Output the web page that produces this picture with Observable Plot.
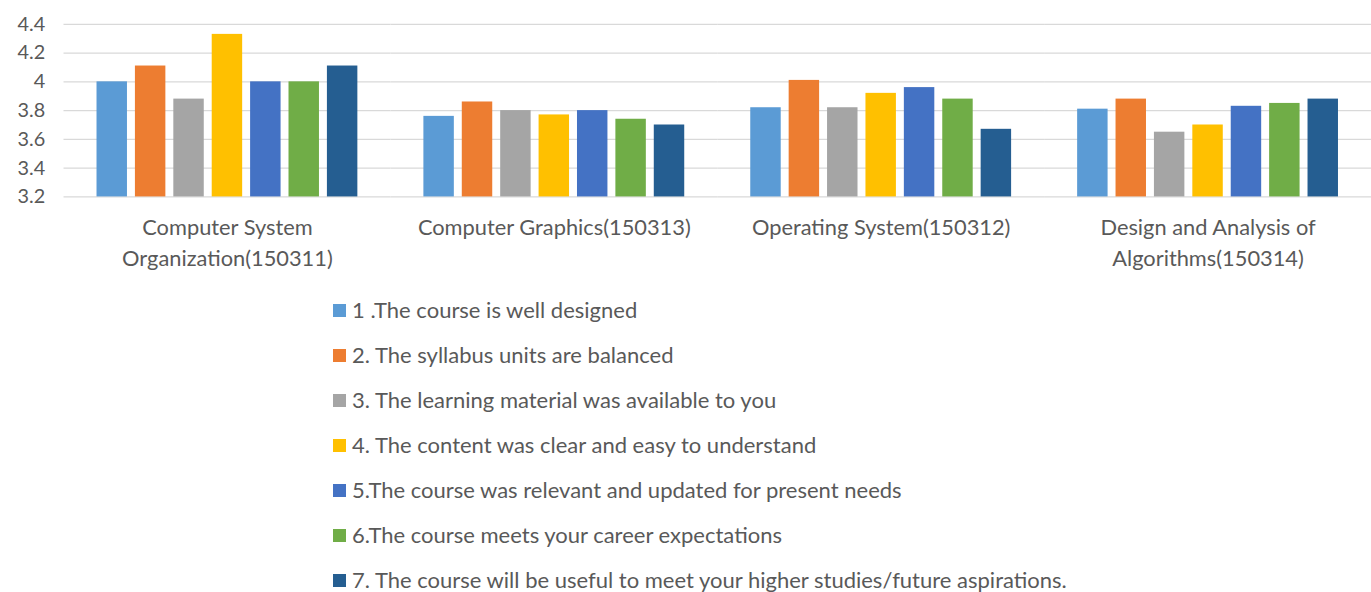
<!DOCTYPE html>
<html>
<head>
<meta charset="utf-8">
<script src="https://cdn.jsdelivr.net/npm/d3@7"></script>
<script src="https://cdn.jsdelivr.net/npm/@observablehq/plot@0.6"></script>
<style>
  html, body { margin: 0; padding: 0; background: #fff; overflow: hidden; }
  #wrap { width: 1371px; height: 592px; overflow: hidden; position: relative; font-family: Lato, sans-serif; }
  #chart svg { display: block; }
  #legend { padding-left: 333px; padding-top: 2px; }
  .row { height: 45px; font-size: 22px; line-height: 22px; color: #595959; white-space: nowrap; display: flex; align-items: center; }
  .sw { width: 13px; height: 13px; display: inline-block; margin-right: 6px; }
</style>
</head>
<body>
<div id="wrap"><div id="chart"></div><div id="legend"></div></div>
<script>
const groups = ["Computer System Organization(150311)", "Computer Graphics(150313)", "Operating System(150312)", "Design and Analysis of Algorithms(150314)"];
const groupLabels = ["Computer System\nOrganization(150311)", "Computer Graphics(150313)", "Operating System(150312)", "Design and Analysis of\nAlgorithms(150314)"];
const series = [
  "1 .The course is well designed",
  "2. The syllabus units are balanced",
  "3. The learning material was available to you",
  "4. The content was clear and easy to understand",
  "5.The course was relevant and updated for present needs",
  "6.The course meets your career expectations",
  "7. The course will be useful to meet your higher studies/future aspirations."
];
const colors = ["#5B9BD5", "#ED7D31", "#A5A5A5", "#FFC000", "#4472C4", "#70AD47", "#255E91"];
const q1 = [4.00, 3.76, 3.82, 3.81];
const q2 = [4.11, 3.86, 4.01, 3.88];
const q3 = [3.88, 3.80, 3.82, 3.65];
const q4 = [4.33, 3.77, 3.92, 3.70];
const q5 = [4.00, 3.80, 3.96, 3.83];
const q6 = [4.00, 3.74, 3.88, 3.85];
const q7 = [4.11, 3.70, 3.67, 3.88];
const yDomain = [3.2, 4.4];
const yTicks = [3.2, 3.4, 3.6, 3.8, 4, 4.2, 4.4];

const seriesValues = [q1, q2, q3, q4, q5, q6, q7];
const data = [];
seriesValues.forEach((vals, si) => vals.forEach((v, gi) => data.push({group: groups[gi], series: series[si], value: v})));

const width = 1382, marginLeft = 64, marginRight = 0;
const fxPadInner = 0.202, fxPadOuter = 0.101;
const step = (width - marginLeft - marginRight) / groups.length;
const gridInset = -step * fxPadInner / 2;
const labelOf = new Map(groups.map((g, i) => [g, groupLabels[i]]));

const chart = Plot.plot({
  width, height: 288,
  marginLeft, marginRight, marginTop: 24, marginBottom: 90,
  style: {fontFamily: "Lato, sans-serif", color: "#595959", background: "#fff"},
  fx: {domain: groups, paddingInner: fxPadInner, paddingOuter: fxPadOuter, round: false, label: null},
  x: {domain: series, paddingInner: 0.207, paddingOuter: 0, round: false, axis: null},
  y: {domain: yDomain, label: null},
  color: {domain: series, range: colors},
  marks: [
    Plot.ruleY(yTicks, {stroke: "#d9d9d9", strokeWidth: 1.3, insetLeft: gridInset, insetRight: gridInset}),
    Plot.barY(data, {fx: "group", x: "series", y1: yDomain[0], y2: "value", fill: "series"}),
    Plot.axisY({ticks: yTicks, tickSize: 0, tickPadding: 19 - gridInset, tickFormat: d => String(d), fontSize: 20, fill: "#595959"}),
    Plot.axisFx({anchor: "bottom", tickSize: 0, tickPadding: 17, tickFormat: g => labelOf.get(g), fontSize: 22, lineHeight: 1.4, fill: "#595959", label: null})
  ]
});
document.getElementById("chart").appendChild(chart);

const legend = document.getElementById("legend");
series.forEach((s, i) => {
  const row = document.createElement("div");
  row.className = "row";
  const sw = document.createElement("span");
  sw.className = "sw";
  sw.style.background = colors[i];
  row.appendChild(sw);
  row.appendChild(document.createTextNode(s));
  legend.appendChild(row);
});
</script>
</body>
</html>
